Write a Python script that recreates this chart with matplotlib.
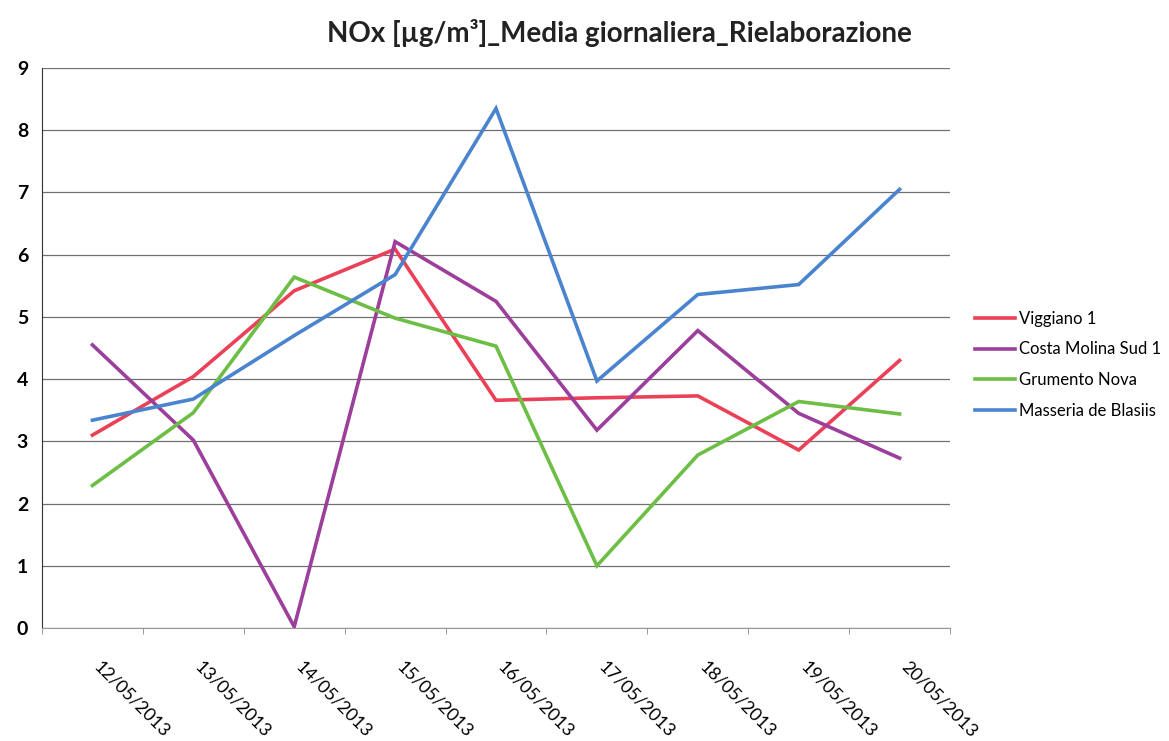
"""
NOx daily means by station, 12/05/2013 - 20/05/2013.
"""

import numpy as np
import matplotlib.pyplot as plt
import matplotlib.transforms as mtransforms

dates = ["12/05/2013", "13/05/2013", "14/05/2013", "15/05/2013", "16/05/2013",
         "17/05/2013", "18/05/2013", "19/05/2013", "20/05/2013"]

viggiano = [3.10, 4.04, 5.42, 6.09, 3.66, 3.70, 3.73, 2.86, 4.30]
costa_molina = [4.55, 3.02, 0.02, 6.21, 5.25, 3.18, 4.78, 3.45, 2.73]
grumento = [2.29, 3.46, 5.64, 4.98, 4.53, 1.00, 2.78, 3.64, 3.44]
masseria = [3.34, 3.68, 4.70, 5.68, 8.35, 3.97, 5.36, 5.52, 7.05]

series_names = ["Viggiano 1", "Costa Molina Sud 1", "Grumento Nova", "Masseria de Blasiis"]
series_values = [viggiano, costa_molina, grumento, masseria]
series_colors = ["#EB4158", "#9B3F9B", "#6DBE45", "#4A84CF"]

plt.rcParams['font.family'] = ['Lato', 'DejaVu Sans']

fig = plt.figure(figsize=(11.69, 7.41), dpi=100)
ax = fig.add_axes([0.0359, 0.1525, 0.7768, 0.7557])

x = np.arange(len(dates))
for name, vals, col in zip(series_names, series_values, series_colors):
    ax.plot(x, vals, color=col, linewidth=2.6, label=name, solid_joinstyle='miter')

ax.set_xlim(-0.5, len(dates) - 0.5)
ax.set_ylim(0, 9)
ax.set_yticks(range(10))
ax.yaxis.grid(True, color='#707070', linewidth=0.9)
ax.set_axisbelow(True)

# category labels under the points, tick marks between categories
ax.set_xticks(x)
ax.set_xticklabels(dates, rotation=-45, ha='left', va='top',
                   rotation_mode='anchor', fontsize=13)
ax.tick_params(axis='x', which='major', length=0, pad=22)
shift = mtransforms.ScaledTranslation(10 / 100, 0, fig.dpi_scale_trans)
for lbl in ax.get_xticklabels():
    lbl.set_transform(lbl.get_transform() + shift)
ax.set_xticks(np.arange(-0.5, len(dates)), minor=True)
ax.tick_params(axis='x', which='minor', length=4, color='#888888', direction='out')
ax.tick_params(axis='y', length=0, pad=10, labelsize=14)
for lbl in ax.get_yticklabels():
    lbl.set_fontweight('bold')

for side in ['top', 'right']:
    ax.spines[side].set_visible(False)
ax.spines['left'].set_color('#333333')
ax.spines['bottom'].set_color('#999999')

fig.text(0.530, 0.955, "NOx [µg/m³]_Media giornaliera_Rielaborazione",
         ha='center', va='center', fontsize=20, fontweight='bold', color='#222222')

ax.legend(loc='center left', bbox_to_anchor=(1.02, 0.47), frameon=False,
          fontsize=12, handlelength=2.4, handletextpad=0.25, labelspacing=0.88,
          borderaxespad=0.0)

fig.savefig("out.png", dpi=100)
